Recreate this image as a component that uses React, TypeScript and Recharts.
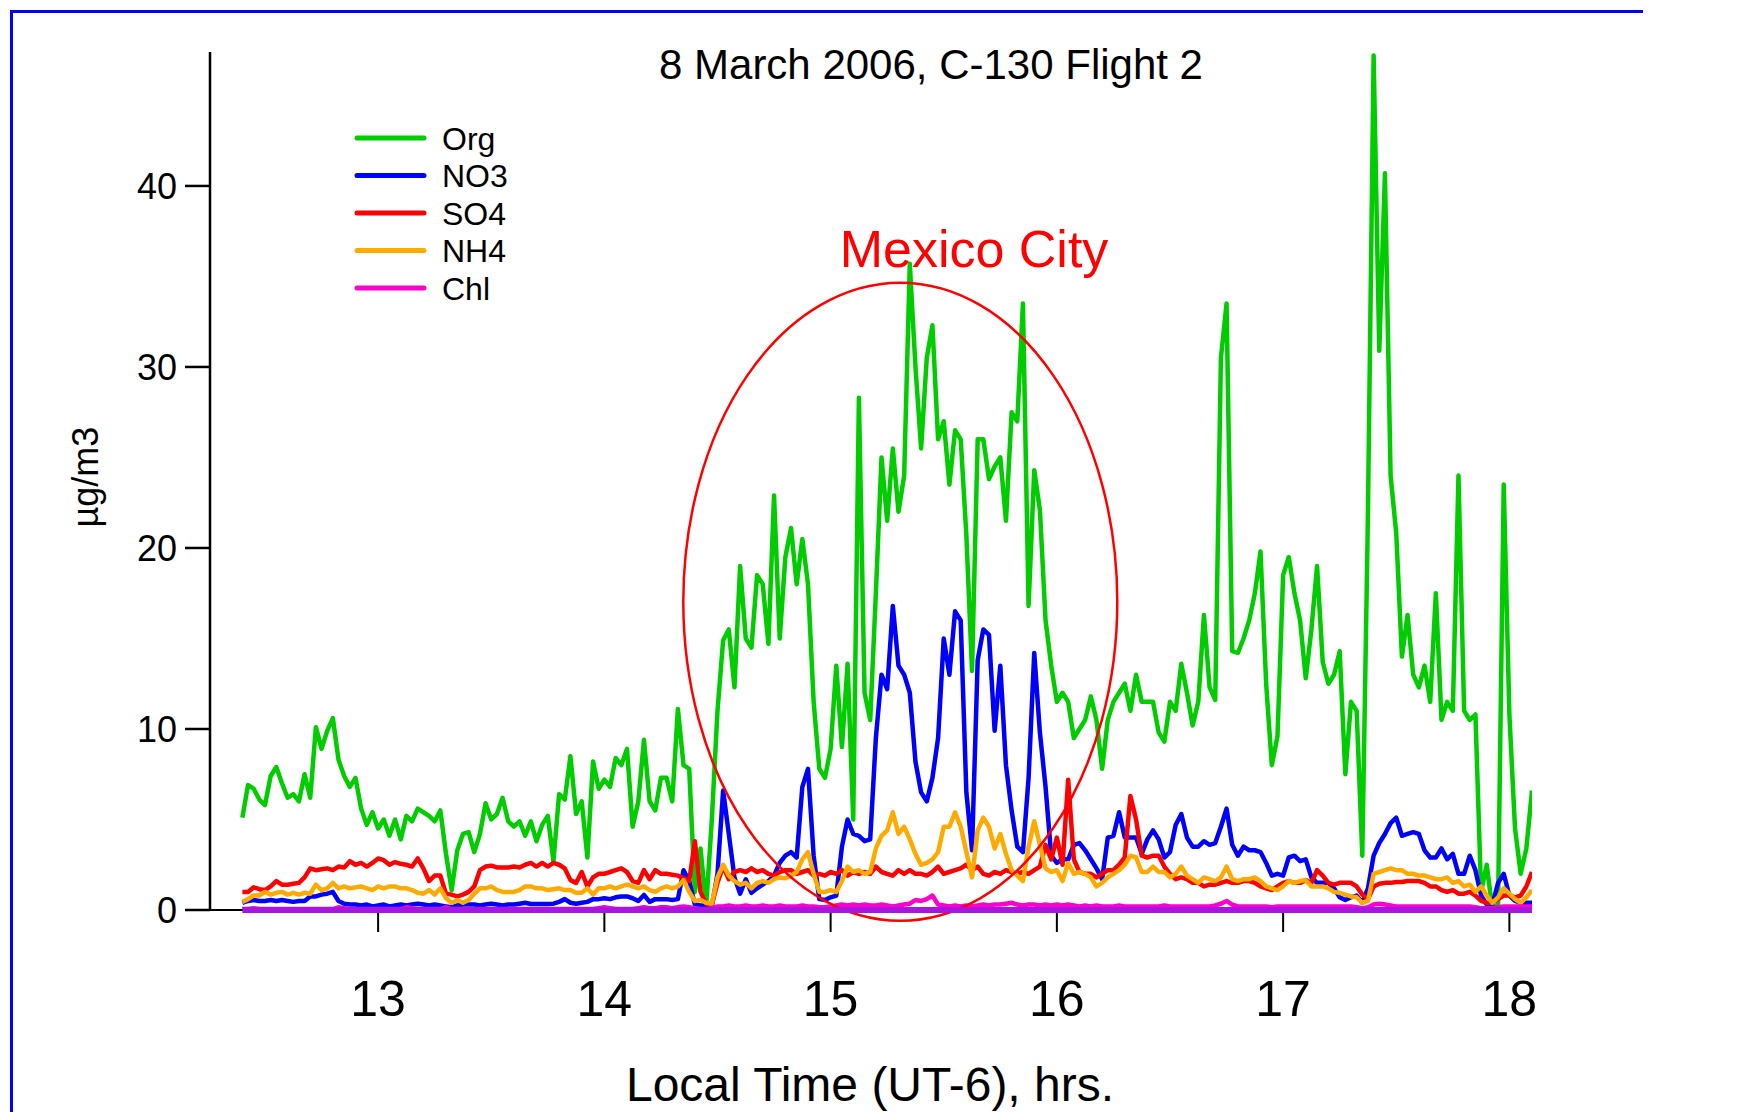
import { LineChart, Line, XAxis, YAxis, ReferenceLine, ReferenceDot } from 'recharts'

const FONT = '"Liberation Sans", Arial, sans-serif'

// samples every 1.5 min (0.025 h) starting at 12.4 h local time
const START_HOUR = 12.4
const STEP_HOUR = 0.025

const org = [
  5.1, 6.9, 6.7, 6.1, 5.8, 7.4, 7.9, 7.0, 6.2, 6.4,
  6.0, 7.5, 6.2, 10.1, 8.9, 9.9, 10.6, 8.3, 7.4, 6.8,
  7.3, 5.6, 4.7, 5.4, 4.5, 5.0, 4.1, 5.0, 3.9, 5.2,
  4.9, 5.6, 5.4, 5.2, 4.9, 5.5, 3.1, 1.1, 3.3, 4.2,
  4.3, 3.2, 4.2, 5.9, 5.0, 5.3, 6.2, 4.9, 4.6, 4.9,
  4.1, 4.9, 3.8, 4.7, 5.2, 2.7, 6.4, 6.1, 8.5, 5.3,
  6.0, 2.9, 8.2, 6.7, 7.2, 6.8, 8.4, 8.0, 8.9, 4.6,
  6.0, 9.4, 6.0, 5.5, 7.3, 7.3, 6.0, 11.1, 8.0, 7.8,
  1.0, 3.4, 0.2, 5.0, 11.0, 14.9, 15.5, 12.3, 19.0, 15.0,
  14.5, 18.5, 18.0, 14.7, 22.9, 15.0, 19.5, 21.1, 18.0, 20.5,
  18.0, 11.5, 7.8, 7.3, 8.9, 13.5, 9.0, 13.6, 5.0, 28.3,
  12.0, 10.5, 17.5, 25.0, 21.5, 25.5, 22.0, 24.0, 35.7, 30.0,
  25.5, 30.5, 32.3, 26.0, 27.0, 23.5, 26.5, 26.0, 20.7, 13.2,
  26.0, 26.0, 23.8, 24.5, 25.0, 21.5, 27.5, 27.0, 33.5, 16.8,
  24.3, 22.1, 16.0, 13.5, 11.5, 12.0, 11.5, 9.5, 10.0, 10.5,
  11.8, 10.5, 7.8, 10.5, 11.5, 12.0, 12.5, 11.0, 13.0, 11.5,
  11.5, 11.5, 9.8, 9.3, 11.5, 11.0, 13.6, 12.0, 10.2, 11.5,
  16.3, 12.3, 11.6, 30.5, 33.5, 14.3, 14.2, 15.0, 16.0, 17.5,
  19.8, 12.5, 8.0, 9.6, 18.5, 19.5, 17.5, 16.0, 12.8, 15.5,
  19.0, 13.7, 12.5, 13.0, 14.3, 7.5, 11.5, 11.0, 3.0, 22.0,
  47.2, 30.9, 40.7, 24.0, 20.8, 14.0, 16.3, 13.0, 12.3, 13.5,
  11.5, 17.5, 10.5, 11.5, 11.0, 24.0, 11.0, 10.5, 10.8, 1.0,
  2.5, 0.0, 0.3, 23.5, 10.8, 4.5, 2.0, 3.4, 6.6,
]

const no3 = [
  0.4, 0.5, 0.55, 0.5, 0.5, 0.55, 0.5, 0.55, 0.5, 0.45,
  0.5, 0.5, 0.75, 0.75, 0.85, 0.9, 1.0, 0.5, 0.35, 0.3,
  0.3, 0.25, 0.3, 0.2, 0.25, 0.3, 0.2, 0.25, 0.3, 0.25,
  0.3, 0.35, 0.3, 0.25, 0.3, 0.25, 0.2, 0.15, 0.25, 0.3,
  0.3, 0.3, 0.25, 0.3, 0.35, 0.3, 0.25, 0.3, 0.3, 0.35,
  0.4, 0.33, 0.33, 0.33, 0.33, 0.35, 0.45, 0.6, 0.4, 0.35,
  0.4, 0.45, 0.6, 0.6, 0.65, 0.6, 0.7, 0.75, 0.75, 0.65,
  0.5, 0.83, 0.45, 0.6, 0.6, 0.6, 0.55, 0.6, 2.2, 1.6,
  0.3, 0.25, 0.25, 0.2, 2.0, 6.6, 4.2, 1.8, 0.9, 1.7,
  0.95, 1.2, 1.4, 1.6, 1.9, 2.6, 3.0, 3.2, 2.9, 6.8,
  7.8, 3.0, 0.6, 0.55, 0.7, 0.8, 3.5, 5.0, 4.2, 4.1,
  3.8, 3.9, 9.5, 13.0, 12.2, 16.8, 13.5, 13.0, 12.0, 8.2,
  6.5, 6.0, 7.3, 9.5, 15.0, 13.0, 16.5, 16.0, 6.5, 3.3,
  13.8, 15.5, 15.2, 9.9, 13.5, 8.0, 5.5, 3.5, 3.2, 7.3,
  14.2, 9.8, 6.8, 3.0, 2.6, 2.8, 2.8, 3.6, 3.7, 3.3,
  2.8, 2.3, 1.7, 4.0, 4.1, 5.4, 4.0, 4.0, 4.0, 3.1,
  3.9, 4.4, 3.9, 2.9, 3.2, 4.7, 5.3, 4.0, 3.5, 3.5,
  3.8, 3.6, 3.7, 4.6, 5.6, 3.6, 3.0, 3.5, 3.3, 3.3,
  3.2, 2.6, 1.9, 2.0, 1.9, 2.9, 3.0, 2.7, 2.8, 1.8,
  1.5, 1.5, 1.5, 1.2, 0.7, 0.55, 0.7, 0.8, 0.4, 1.2,
  3.0, 3.7, 4.2, 4.8, 5.1, 4.1, 4.2, 4.3, 4.2, 3.3,
  2.9, 2.9, 3.4, 2.8, 3.1, 2.0, 2.0, 3.0, 2.2, 0.8,
  0.3, 0.3, 1.5, 2.0, 0.8, 0.5, 0.4, 0.4, 0.4,
]

const so4 = [
  1.0, 1.0, 1.25, 1.15, 1.1, 1.3, 1.6, 1.4, 1.4, 1.45,
  1.5, 1.8, 2.3, 2.2, 2.25, 2.3, 2.2, 2.4, 2.35, 2.7,
  2.5, 2.6, 2.4, 2.6, 2.85, 2.75, 2.5, 2.65, 2.55, 2.5,
  2.4, 2.85, 2.3, 1.6, 1.9, 1.9, 0.9, 0.85, 0.75, 0.85,
  1.0, 1.3, 2.2, 2.4, 2.45, 2.35, 2.35, 2.35, 2.4, 2.35,
  2.5, 2.6, 2.4, 2.6, 2.4, 2.6, 2.5, 2.3, 1.65, 1.5,
  2.1, 1.3, 1.8, 2.0, 2.0, 2.1, 2.2, 2.3, 2.1, 1.6,
  1.5, 2.2, 1.7, 2.2, 2.0, 2.0, 1.95, 1.9, 1.75, 1.6,
  3.8, 1.0, 0.35, 0.3, 1.5, 2.4, 1.7, 2.1, 2.2, 2.1,
  2.3, 2.1, 2.2, 2.0, 1.9, 2.1, 2.2, 2.2, 2.0, 2.1,
  2.2, 1.9, 2.0, 1.9, 2.1, 2.0, 2.2, 1.9, 2.1, 2.0,
  2.1, 2.0, 2.4, 2.1, 2.0, 1.9, 2.2, 2.0, 2.2, 2.0,
  2.0, 1.9, 2.1, 2.4, 2.0, 2.1, 2.2, 2.3, 2.5, 2.2,
  2.4, 2.0, 1.9, 2.1, 2.0, 2.2, 2.1, 2.0, 2.1, 2.0,
  2.2, 2.4, 3.6, 2.8, 4.0, 2.5, 7.2, 2.8, 2.1, 2.0,
  2.0, 1.8, 2.0, 2.2, 2.2, 2.5, 2.9, 6.3, 5.0, 3.0,
  2.9, 3.0, 3.0, 2.4, 2.0, 1.7, 1.8, 1.7, 1.5, 1.5,
  1.3, 1.4, 1.4, 1.5, 1.6, 1.5, 1.5, 1.6, 1.6, 1.5,
  1.3, 1.2, 1.1, 1.3, 1.5, 1.6, 1.5, 1.5, 1.65, 1.5,
  2.2, 1.9, 1.5, 1.4, 1.5, 1.5, 1.5, 1.3, 0.85, 0.6,
  1.3, 1.45, 1.5, 1.5, 1.55, 1.55, 1.6, 1.6, 1.6, 1.5,
  1.3, 1.3, 1.1, 1.0, 1.1, 0.9, 0.9, 1.0, 0.8, 0.5,
  0.4, 0.4, 0.6, 0.8, 0.8, 0.7, 0.8, 1.3, 2.1,
]

const nh4 = [
  0.45, 0.6, 0.8, 0.8, 1.0, 0.85, 0.95, 1.0, 0.85, 0.95,
  0.85, 0.95, 0.9, 1.4, 1.1, 1.2, 1.5, 1.2, 1.3, 1.2,
  1.25, 1.3, 1.2, 1.1, 1.3, 1.2, 1.3, 1.3, 1.2, 1.2,
  1.1, 0.95, 0.9, 1.1, 0.85, 1.2, 0.65, 0.4, 0.55, 0.4,
  0.55, 0.9, 1.2, 1.2, 1.3, 1.1, 1.0, 1.0, 1.0, 1.1,
  1.3, 1.3, 1.2, 1.2, 1.1, 1.15, 1.2, 1.1, 1.1, 0.95,
  0.95, 1.2, 0.85, 1.2, 1.2, 1.3, 1.2, 1.3, 1.4, 1.3,
  1.2, 1.3, 1.1, 1.0, 1.2, 1.3, 1.2, 1.3, 1.65, 1.0,
  0.5, 0.55, 0.4, 0.35, 1.8, 2.5, 1.9, 1.6, 1.4, 1.5,
  1.2, 1.5, 1.6, 1.5, 1.7, 1.8, 1.75, 1.9, 2.1, 2.8,
  3.2, 2.0, 1.0, 1.0, 1.1, 1.0, 1.6, 2.4, 2.1, 2.2,
  2.0, 2.1, 3.4, 4.1, 4.4, 5.4, 4.2, 4.6, 3.9, 3.1,
  2.5, 2.6, 2.8, 3.2, 4.6, 4.6, 5.4, 4.6, 3.2, 1.8,
  4.4, 5.1, 4.6, 3.4, 4.2, 3.1, 2.2, 1.9, 1.6, 3.5,
  4.9, 3.6, 2.3, 2.1, 2.2, 1.6, 2.6, 2.0, 2.1, 2.0,
  1.8, 1.3, 1.5, 1.8, 2.0, 2.2, 2.5, 3.0, 2.9, 2.1,
  2.1, 2.4, 2.1, 2.1, 1.8, 2.0, 2.4, 1.9, 1.7, 1.5,
  1.8, 1.7, 1.6, 1.8, 2.4, 1.7, 1.6, 1.7, 1.7, 1.8,
  1.6, 1.3, 1.2, 1.1, 1.3, 1.6, 1.5, 1.6, 1.65, 1.3,
  1.3, 1.3, 1.2, 1.0, 0.95, 0.85, 0.75, 0.7, 0.4, 0.5,
  2.0, 2.1, 2.2, 2.3, 2.2, 2.2, 2.0, 2.0, 1.9, 1.9,
  1.8, 1.7, 1.7, 1.8, 1.5, 1.6, 1.3, 1.4, 1.0, 1.3,
  0.8, 0.4, 0.7, 1.2, 0.9, 0.6, 0.4, 0.7, 1.1,
]

const chl = [
  0.05, 0.05, 0.1, 0.05, 0.05, 0.05, 0.05, 0.05, 0.05, 0.05,
  0.05, 0.05, 0.05, 0.05, 0.05, 0.05, 0.05, 0.15, 0.1, 0.05,
  0.05, 0.05, 0.05, 0.05, 0.05, 0.05, 0.05, 0.05, 0.05, 0.15,
  0.1, 0.05, 0.05, 0.05, 0.05, 0.05, 0.15, 0.05, 0.05, 0.05,
  0.05, 0.05, 0.05, 0.05, 0.05, 0.05, 0.05, 0.05, 0.05, 0.05,
  0.05, 0.05, 0.05, 0.05, 0.05, 0.05, 0.05, 0.05, 0.05, 0.05,
  0.05, 0.05, 0.05, 0.1, 0.15, 0.1, 0.05, 0.05, 0.05, 0.05,
  0.1, 0.15, 0.1, 0.1, 0.15, 0.15, 0.1, 0.15, 0.2, 0.15,
  0.1, 0.05, 0.05, 0.1, 0.2, 0.2, 0.25, 0.2, 0.2, 0.25,
  0.2, 0.2, 0.25, 0.2, 0.2, 0.25, 0.2, 0.2, 0.2, 0.25,
  0.2, 0.2, 0.15, 0.15, 0.2, 0.25, 0.3, 0.25, 0.3, 0.25,
  0.3, 0.25, 0.25, 0.3, 0.25, 0.2, 0.25, 0.3, 0.35, 0.55,
  0.5, 0.6, 0.8, 0.3, 0.25, 0.2, 0.25, 0.2, 0.25, 0.2,
  0.25, 0.3, 0.25, 0.3, 0.3, 0.35, 0.4, 0.3, 0.25, 0.3,
  0.3, 0.25, 0.3, 0.25, 0.3, 0.25, 0.3, 0.25, 0.2, 0.25,
  0.2, 0.25, 0.2, 0.2, 0.2, 0.25, 0.2, 0.2, 0.2, 0.2,
  0.2, 0.2, 0.2, 0.25, 0.2, 0.2, 0.2, 0.2, 0.2, 0.2,
  0.2, 0.2, 0.25, 0.35, 0.5, 0.3, 0.2, 0.2, 0.2, 0.2,
  0.2, 0.2, 0.15, 0.2, 0.2, 0.2, 0.2, 0.2, 0.2, 0.2,
  0.2, 0.2, 0.2, 0.2, 0.2, 0.2, 0.2, 0.15, 0.1, 0.15,
  0.3, 0.35, 0.3, 0.25, 0.2, 0.2, 0.2, 0.2, 0.2, 0.2,
  0.2, 0.2, 0.2, 0.2, 0.2, 0.2, 0.2, 0.2, 0.15, 0.1,
  0.1, 0.1, 0.15, 0.2, 0.2, 0.2, 0.2, 0.2, 0.2,
]

const xTicks = [13, 14, 15, 16, 17, 18]
const yTicks = [0, 10, 20, 30, 40]

const series = [
  { key: 'org', name: 'Org', color: '#00cc00' },
  { key: 'no3', name: 'NO3', color: '#0000ff' },
  { key: 'so4', name: 'SO4', color: '#ff0000' },
  { key: 'nh4', name: 'NH4', color: '#ffaa00' },
  { key: 'chl', name: 'Chl', color: '#ff00cc' },
]

const rows = org.map((v, i) => ({
  t: +(START_HOUR + STEP_HOUR * i).toFixed(3),
  org: v,
  no3: no3[i],
  so4: so4[i],
  nh4: nh4[i],
  chl: chl[i],
}))

function XTick({ x, y, payload }: any) {
  return (
    <text x={x} y={y + 84} textAnchor="middle" fontSize={50} fontFamily={FONT} fill="#000">
      {payload.value}
    </text>
  )
}

function CityRing({ cx, cy }: any) {
  return <ellipse cx={cx} cy={cy} rx={217} ry={319} fill="none" stroke="#ff0000" strokeWidth={2.5} />
}

export default function App() {
  return (
    <div style={{ position: 'absolute', left: 0, top: 0, width: 1759, height: 1112, overflow: 'hidden', background: '#fff' }}>
      <LineChart width={1759} height={1112} data={rows} margin={{ top: 52, right: 227, left: 110, bottom: 52 }}>
        <XAxis
          dataKey="t"
          type="number"
          domain={[12.257, 18.1]}
          ticks={xTicks}
          interval={0}
          allowDataOverflow
          height={150}
          tickSize={22}
          tickMargin={0}
          axisLine={{ stroke: '#000', strokeWidth: 2 }}
          tickLine={{ stroke: '#000', strokeWidth: 2 }}
          tick={<XTick />}
        />
        <YAxis
          type="number"
          domain={[0, 47.4]}
          ticks={yTicks}
          interval={0}
          allowDataOverflow
          width={100}
          tickSize={25}
          tickMargin={8}
          axisLine={{ stroke: '#000', strokeWidth: 2.5 }}
          tickLine={{ stroke: '#000', strokeWidth: 2.5 }}
          tick={{ fill: '#000', fontSize: 36, fontFamily: FONT }}
        />
        <ReferenceDot x={15.308} y={17.03} r={0} ifOverflow="visible" shape={<CityRing />} />
        {series.map((s) => (
          <Line
            key={s.key}
            type="linear"
            dataKey={s.key}
            stroke={s.color}
            strokeWidth={4.5}
            strokeLinejoin="round"
            dot={false}
            isAnimationActive={false}
          />
        ))}
        <ReferenceLine
          segment={[{ x: 12.4, y: 0 }, { x: 18.1, y: 0 }]}
          stroke="#a616e0"
          strokeWidth={6}
          ifOverflow="visible"
          zIndex={1000}
        />
      </LineChart>

      <svg width={1759} height={1112} style={{ position: 'absolute', left: 0, top: 0, pointerEvents: 'none' }}>
        <text x={931} y={79} textAnchor="middle" fontSize={42} fontFamily={FONT} fill="#000">
          8 March 2006, C-130 Flight 2
        </text>
        <text x={974} y={267} textAnchor="middle" fontSize={52} fontFamily={FONT} fill="#ff0000">
          Mexico City
        </text>
        <text x={870} y={1101} textAnchor="middle" fontSize={48} fontFamily={FONT} fill="#000">
          Local Time (UT-6), hrs.
        </text>
        <text
          x={0}
          y={0}
          transform="translate(98 477) rotate(-90)"
          textAnchor="middle"
          fontSize={36}
          fontFamily={FONT}
          fill="#000"
        >
          µg/m3
        </text>
        {series.map((s, i) => {
          const cy = 138 + i * 37.5
          return (
            <g key={s.key}>
              <line x1={357} x2={424} y1={cy} y2={cy} stroke={s.color} strokeWidth={5} strokeLinecap="round" />
              <text x={442} y={cy + 11.5} fontSize={32} fontFamily={FONT} fill="#000">
                {s.name}
              </text>
            </g>
          )
        })}
      </svg>

      <div
        style={{
          position: 'absolute',
          left: 10,
          top: 10,
          width: 1633,
          height: 1102,
          boxSizing: 'border-box',
          borderTop: '3px solid #0000ff',
          borderLeft: '3px solid #0000ff',
          pointerEvents: 'none',
        }}
      />
    </div>
  )
}
